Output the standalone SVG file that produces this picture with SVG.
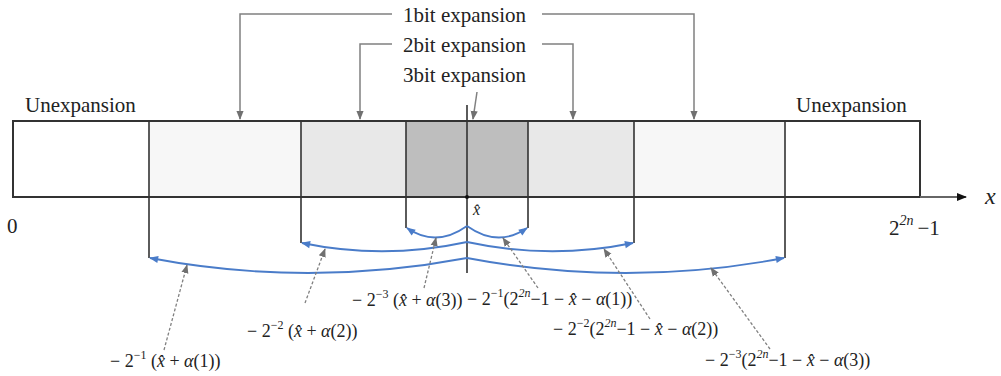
<svg xmlns="http://www.w3.org/2000/svg" width="1001" height="376" viewBox="0 0 1001 376">
<defs>
<style>
text{font-family:"Liberation Serif","Times New Roman",serif;fill:#222;}
.lbl{font-size:21px;}
.f{font-size:18px;}
.sup{font-size:12px;}
.it{font-style:italic;}
.box{stroke:#333;stroke-width:2;}
.div{stroke:#333;stroke-width:1.6;fill:none;}
.gray{stroke:#808080;stroke-width:1.5;fill:none;}
.dash{stroke:#808080;stroke-width:1.3;fill:none;stroke-dasharray:3,2;}
.blue{stroke:#4a7cc9;stroke-width:1.8;fill:none;}
</style>
<marker id="ga" viewBox="0 0 10 10" refX="9" refY="5" markerWidth="9" markerHeight="9" markerUnits="userSpaceOnUse" orient="auto"><path d="M0,1 L10,5 L0,9 z" fill="#707070"/></marker>
<marker id="ba" viewBox="0 0 10 10" refX="9" refY="5" markerWidth="11" markerHeight="9" markerUnits="userSpaceOnUse" orient="auto"><path d="M0,1 L10,5 L0,9 z" fill="#4a7cc9"/></marker>
<marker id="ka" viewBox="0 0 10 10" refX="9" refY="5" markerWidth="12" markerHeight="10" markerUnits="userSpaceOnUse" orient="auto"><path d="M0,1 L10,5 L0,9 z" fill="#111"/></marker>
</defs>
<rect width="1001" height="376" fill="#fff"/>

<g id="bar">
<rect x="13" y="121" width="136" height="76" fill="#fff"/>
<rect x="149" y="121" width="152" height="76" fill="#f7f7f7"/>
<rect x="301" y="121" width="105" height="76" fill="#e8e8e8"/>
<rect x="406" y="121" width="122" height="76" fill="#bebebe"/>
<rect x="528" y="121" width="106" height="76" fill="#e8e8e8"/>
<rect x="634" y="121" width="151" height="76" fill="#f7f7f7"/>
<rect x="785" y="121" width="135" height="76" fill="#fff"/>
<rect x="13" y="121" width="907" height="76" fill="none" class="box"/>
</g>

<g id="axis">
<line x1="920" y1="197" x2="966" y2="197" stroke="#666" stroke-width="2" marker-end="url(#ka)"/>
<text x="985" y="204" class="it" font-size="24">x</text>
<text x="7" y="233" class="lbl">0</text>
<text x="889" y="235" class="lbl">2<tspan class="it" dy="-10" font-size="14">2n</tspan><tspan dy="10" dx="4">−1</tspan></text>
<text x="473" y="215" class="it" font-size="16">x̂</text>
</g>

<g id="dividers">
<line x1="149" y1="121" x2="149" y2="258" class="div"/>
<line x1="301" y1="121" x2="301" y2="243" class="div"/>
<line x1="406" y1="121" x2="406" y2="228" class="div"/>
<line x1="528" y1="121" x2="528" y2="228" class="div"/>
<line x1="634" y1="121" x2="634" y2="243" class="div"/>
<line x1="785" y1="121" x2="785" y2="258" class="div"/>
<line x1="467" y1="105" x2="467" y2="273" class="div"/>
<circle cx="467" cy="197" r="2" fill="#111"/>
</g>

<g id="labels">
<text x="403" y="22" class="lbl">1bit expansion</text>
<text x="403" y="52" class="lbl">2bit expansion</text>
<text x="403" y="82" class="lbl">3bit expansion</text>
<text x="25" y="112" class="lbl">Unexpansion</text>
<text x="796" y="112" class="lbl">Unexpansion</text>
</g>

<g id="connectors">
<path d="M392,14 H240 V119" class="gray" marker-end="url(#ga)"/>
<path d="M542,14 H694 V119" class="gray" marker-end="url(#ga)"/>
<path d="M392,44 H360 V119" class="gray" marker-end="url(#ga)"/>
<path d="M542,44 H573 V119" class="gray" marker-end="url(#ga)"/>
<path d="M477,92 L473,119" class="gray" marker-end="url(#ga)"/>

<path d="M467,226 Q436,248 407,228" class="blue" marker-end="url(#ba)"/>
<path d="M467,226 Q498,248 527,228" class="blue" marker-end="url(#ba)"/>
<path d="M467,242 Q384,260 302,243" class="blue" marker-end="url(#ba)"/>
<path d="M467,242 Q550,260 633,243" class="blue" marker-end="url(#ba)"/>
<path d="M467,258 Q308,288 150,258" class="blue" marker-end="url(#ba)"/>
<path d="M467,258 Q626,288 784,258" class="blue" marker-end="url(#ba)"/>

<path d="M164,350 L187,265" class="dash" marker-end="url(#ga)"/>
<path d="M305,303 L325,249" class="dash" marker-end="url(#ga)"/>
<path d="M424,288 L436,238" class="dash" marker-end="url(#ga)"/>
<path d="M538,288 L503,238" class="dash" marker-end="url(#ga)"/>
<path d="M650,319 L604,249" class="dash" marker-end="url(#ga)"/>
<path d="M770,349 L711,268" class="dash" marker-end="url(#ga)"/>
</g>

<g id="formulas">
<text x="110" y="367" class="f">− 2<tspan class="sup" dy="-8">−1</tspan><tspan dy="8"> (</tspan><tspan class="it">x̂</tspan> + <tspan class="it">α</tspan>(1))</text>
<text x="247" y="337" class="f">− 2<tspan class="sup" dy="-8">−2</tspan><tspan dy="8"> (</tspan><tspan class="it">x̂</tspan> + <tspan class="it">α</tspan>(2))</text>
<text x="352" y="306" class="f">− 2<tspan class="sup" dy="-8">−3</tspan><tspan dy="8"> (</tspan><tspan class="it">x̂</tspan> + <tspan class="it">α</tspan>(3))</text>
<text x="467" y="305" class="f">− 2<tspan class="sup" dy="-8">−1</tspan><tspan dy="8">(2</tspan><tspan class="sup it" dy="-8">2n</tspan><tspan dy="8">−1 − </tspan><tspan class="it">x̂</tspan> − <tspan class="it">α</tspan>(1))</text>
<text x="553" y="335" class="f">− 2<tspan class="sup" dy="-8">−2</tspan><tspan dy="8">(2</tspan><tspan class="sup it" dy="-8">2n</tspan><tspan dy="8">−1 − </tspan><tspan class="it">x̂</tspan> − <tspan class="it">α</tspan>(2))</text>
<text x="705" y="366" class="f">− 2<tspan class="sup" dy="-8">−3</tspan><tspan dy="8">(2</tspan><tspan class="sup it" dy="-8">2n</tspan><tspan dy="8">−1 − </tspan><tspan class="it">x̂</tspan> − <tspan class="it">α</tspan>(3))</text>
</g>
</svg>
